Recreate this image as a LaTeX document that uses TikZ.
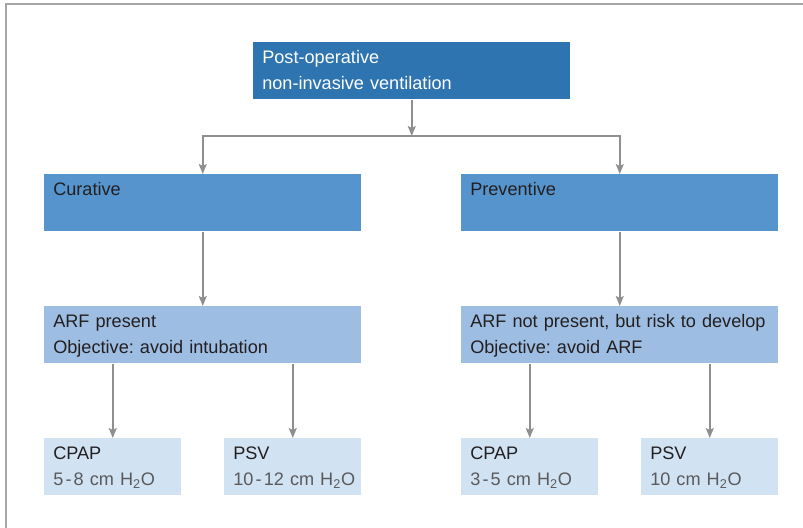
\documentclass[tikz,border=0pt]{standalone}
\usepackage{fontspec}
\setmainfont{Liberation Sans}
\usetikzlibrary{arrows.meta}
\definecolor{topblue}{HTML}{2E74B0}
\definecolor{midblue}{HTML}{5594CC}
\definecolor{lightblue}{HTML}{9DBDE2}
\definecolor{paleblue}{HTML}{D1E2F3}
\definecolor{edgegray}{HTML}{8F8F91}
\definecolor{framegray}{HTML}{A6A6A6}
\definecolor{textdark}{HTML}{231F20}
\definecolor{textgray}{HTML}{5A5A5C}
\newcommand{\dsh}{\kern0.12em-\kern0.12em}
\newcommand{\pval}[1]{\mbox{\textcolor{textgray}{#1 cm H\textsubscript{2}O}}}
\tikzstyle{block} = [rectangle, anchor=north west, text width=224.25pt, align=left,
    inner xsep=6.75pt, inner ysep=0pt, text height=15.75pt, text depth=27pt,
    text=textdark, font=\fontsize{13.6}{19.5}\selectfont,
    execute at begin node={\hyphenpenalty=10000\exhyphenpenalty=10000\frenchspacing}]
\tikzstyle{blocksmall} = [block, text width=89.25pt, fill=paleblue]
\tikzstyle{line} = [draw, edgegray, line width=1.1pt,
    -{Stealth[length=7.5pt, width=6pt, inset=1.5pt]}]

\begin{document}
\begin{tikzpicture}[x=0.75pt, y=-0.75pt]
    \useasboundingbox (0,0) rectangle (803,528);
    \draw [framegray, line width=1.1pt] (6,528) -- (6,4) -- (803,4);
    % Place nodes
    \node [block, fill=topblue, text=white] (niv) at (253,42) {Post-operative\\non-invasive ventilation};
    \node [block, fill=midblue] (cur) at (44,174) {Curative};
    \node [block, fill=midblue] (prev) at (461,174) {Preventive};
    \node [block, fill=lightblue] (arf) at (44,306) {ARF present\\Objective: avoid intubation};
    \node [block, fill=lightblue] (norisk) at (461,306) {ARF not present, but risk to develop\\Objective: avoid ARF};
    \node [blocksmall] (cpapa) at (44,438) {CPAP\\\pval{5\dsh8}};
    \node [blocksmall] (psva) at (224,438) {PSV\\\pval{10\dsh12}};
    \node [blocksmall] (cpapb) at (461,438) {CPAP\\\pval{3\dsh5}};
    \node [blocksmall] (psvb) at (641,438) {PSV\\\pval{10}};
    \coordinate (split) at (niv.south |- 0,136);
    % Draw edges
    \path [line] (niv.south) -- (split);
    \path [line] (split) -| (cur.north);
    \path [line] (split) -| (prev.north);
    \path [line] (cur.south) -- (arf.north);
    \path [line] (prev.south) -- (norisk.north);
    \path [line] (arf.south -| cpapa.north) -- (cpapa.north);
    \path [line] (arf.south -| psva.north) -- (psva.north);
    \path [line] (norisk.south -| cpapb.north) -- (cpapb.north);
    \path [line] (norisk.south -| psvb.north) -- (psvb.north);
\end{tikzpicture}
\end{document}
